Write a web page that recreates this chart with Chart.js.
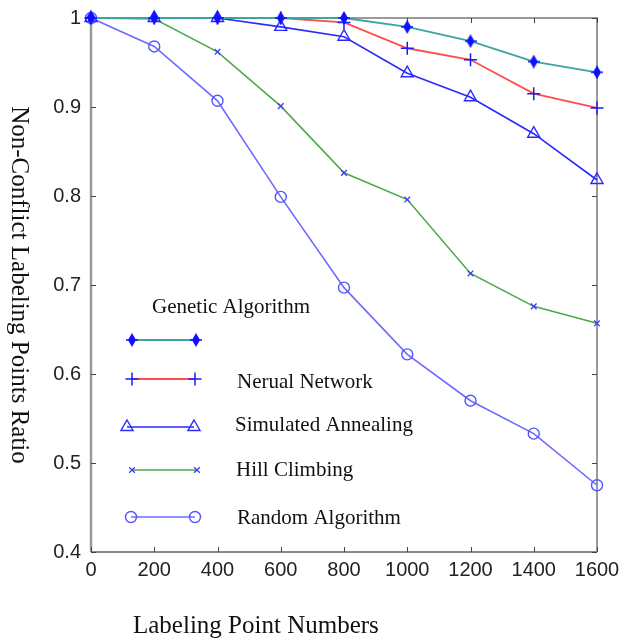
<!DOCTYPE html>
<html><head><meta charset="utf-8">
<script src="https://cdn.jsdelivr.net/npm/chart.js@4.4.1/dist/chart.umd.min.js"></script>
<style>html,body{margin:0;padding:0;background:#fff}#wrap{width:623px;height:640px}</style>
</head><body><div id="wrap"><canvas id="c" width="623" height="640"></canvas></div>
<script>
// ---- data ----
const labelingPoints = [0, 200, 400, 600, 800, 1000, 1200, 1400, 1600];
const geneticAlgorithm = [1, 1, 1, 1, 1, 0.990, 0.974, 0.951, 0.939];
const neuralNetwork = [1, 1, 1, 1, 0.995, 0.966, 0.953, 0.915, 0.899];
const simulatedAnnealing = [1, 1, 1, 0.990, 0.979, 0.938, 0.911, 0.870, 0.818];
const hillClimbing = [1, 0.999, 0.962, 0.901, 0.826, 0.796, 0.713, 0.676, 0.657];
const randomAlgorithm = [1, 0.968, 0.907, 0.799, 0.697, 0.622, 0.570, 0.533, 0.475];
const xTickValues = [0, 200, 400, 600, 800, 1000, 1200, 1400, 1600];
const xTickLabels = ['0', '200', '400', '600', '800', '1000', '1200', '1400', '1600'];
const yTickValues = [0.4, 0.5, 0.6, 0.7, 0.8, 0.9, 1];
const yTickLabels = ['0.4', '0.5', '0.6', '0.7', '0.8', '0.9', '1'];
const seriesNames = ['Genetic Algorithm', 'Nerual Network', 'Simulated Annealing', 'Hill Climbing', 'Random Algorithm'];
const xAxisTitle = 'Labeling Point Numbers';
const yAxisTitle = 'Non-Conflict Labeling Points Ratio';

// ---- custom marker for Genetic Algorithm ----
function makeStar() {
  const c = document.createElement('canvas');
  c.width = 12; c.height = 14;
  const g = c.getContext('2d');
  g.fillStyle = '#1010ff';
  g.beginPath();
  g.moveTo(6, 0); g.lineTo(10, 7); g.lineTo(6, 14); g.lineTo(2, 7); g.closePath();
  g.fill();
  g.strokeStyle = '#1010ff'; g.lineWidth = 1.5;
  g.beginPath(); g.moveTo(0, 7); g.lineTo(12, 7); g.stroke();
  return c;
}
const starMarker = makeStar();

const pts = arr => arr.map((v, i) => ({ x: labelingPoints[i], y: v }));
const markerBlue = '#1a1aff';

const datasets = [
  { label: seriesNames[0], data: pts(geneticAlgorithm), borderColor: '#3aa6a0', borderWidth: 1.8,
    pointStyle: starMarker, pointRadius: 6, pointBorderColor: markerBlue, pointBackgroundColor: markerBlue },
  { label: seriesNames[1], data: pts(neuralNetwork), borderColor: '#ff4d4d', borderWidth: 1.8,
    pointStyle: 'cross', pointRadius: 6.5, pointBorderWidth: 1.5, pointBorderColor: markerBlue, pointBackgroundColor: markerBlue },
  { label: seriesNames[2], data: pts(simulatedAnnealing), borderColor: '#2a2aff', borderWidth: 1.6,
    pointStyle: 'triangle', pointRadius: 7, pointBorderWidth: 1.4, pointBorderColor: '#2a2aff', pointBackgroundColor: 'rgba(255,255,255,0)' },
  { label: seriesNames[3], data: pts(hillClimbing), borderColor: '#4aaa4a', borderWidth: 1.6,
    pointStyle: 'crossRot', pointRadius: 4, pointBorderWidth: 1.3, pointBorderColor: '#3a3aff', pointBackgroundColor: '#3a3aff' },
  { label: seriesNames[4], data: pts(randomAlgorithm), borderColor: '#6b6bff', borderWidth: 1.6,
    pointStyle: 'circle', pointRadius: 5.5, pointBorderWidth: 1.4, pointBorderColor: '#5555ff', pointBackgroundColor: 'rgba(255,255,255,0)' }
].map(d => Object.assign({ fill: false, tension: 0, clip: false, pointHoverRadius: d.pointRadius }, d));

function drawMarker(ctx, ds, x, y) {
  ctx.save();
  ctx.strokeStyle = ds.pointBorderColor;
  ctx.fillStyle = ds.pointBackgroundColor;
  ctx.lineWidth = ds.pointBorderWidth || 1;
  const opts = { pointStyle: ds.pointStyle, radius: ds.pointRadius, borderWidth: ds.pointBorderWidth || 1, rotation: 0 };
  if (Chart.helpers && Chart.helpers.drawPoint) Chart.helpers.drawPoint(ctx, opts, x, y);
  ctx.restore();
}

const framePlugin = {
  id: 'frame',
  beforeDatasetsDraw(chart) {
    const { ctx, chartArea: a, scales } = chart;
    ctx.save();
    // left axis
    ctx.strokeStyle = '#9a9a9a'; ctx.lineWidth = 2.5;
    ctx.beginPath(); ctx.moveTo(a.left, a.top); ctx.lineTo(a.left, a.bottom); ctx.stroke();
    ctx.strokeStyle = '#7a7a7a'; ctx.lineWidth = 1.5;
    ctx.beginPath(); ctx.moveTo(a.left, a.top); ctx.lineTo(a.right, a.top); ctx.lineTo(a.right, a.bottom); ctx.stroke();
    ctx.strokeStyle = '#8a8a8a'; ctx.lineWidth = 2;
    ctx.beginPath(); ctx.moveTo(a.left, a.bottom); ctx.lineTo(a.right, a.bottom); ctx.stroke();
    // inward ticks
    ctx.strokeStyle = '#444'; ctx.lineWidth = 1;
    xTickValues.forEach(v => {
      const px = Math.round(scales.x.getPixelForValue(v)) + 0.5;
      ctx.beginPath(); ctx.moveTo(px, a.bottom); ctx.lineTo(px, a.bottom - 5); ctx.stroke();
      ctx.beginPath(); ctx.moveTo(px, a.top); ctx.lineTo(px, a.top + 5); ctx.stroke();
    });
    yTickValues.forEach(v => {
      const py = Math.round(scales.y.getPixelForValue(v)) + 0.5;
      ctx.beginPath(); ctx.moveTo(a.left, py); ctx.lineTo(a.left + 5, py); ctx.stroke();
      ctx.beginPath(); ctx.moveTo(a.right, py); ctx.lineTo(a.right - 5, py); ctx.stroke();
    });
    ctx.restore();
  },
  afterDraw(chart) {
    const ctx = chart.ctx;
    ctx.save();
    ctx.fillStyle = '#111';
    // axis titles
    ctx.font = '25px "Liberation Serif", "Times New Roman", serif';
    ctx.textBaseline = 'alphabetic';
    ctx.textAlign = 'left';
    ctx.fillText(xAxisTitle, 133, 633);
    ctx.save();
    ctx.translate(19, 285);
    ctx.rotate(Math.PI / 2);
    ctx.textAlign = 'center';
    ctx.textBaseline = 'middle';
    ctx.fillText(yAxisTitle, 0, 0);
    ctx.restore();
    // legend
    const legend = [
      { tx: 152, ty: 307, x1: 132, x2: 196, ly: 340 },
      { tx: 237, ty: 382, x1: 132, x2: 195, ly: 379 },
      { tx: 235, ty: 425, x1: 127, x2: 194, ly: 427 },
      { tx: 236, ty: 470, x1: 132, x2: 197, ly: 470 },
      { tx: 237, ty: 518, x1: 131, x2: 195, ly: 517 }
    ];
    ctx.font = '21px "Liberation Serif", "Times New Roman", serif';
    ctx.textAlign = 'left';
    ctx.textBaseline = 'middle';
    legend.forEach((L, i) => {
      const ds = datasets[i];
      ctx.fillStyle = '#111';
      ctx.fillText(seriesNames[i], L.tx, L.ty);
      ctx.save();
      ctx.strokeStyle = ds.borderColor; ctx.lineWidth = ds.borderWidth;
      ctx.beginPath(); ctx.moveTo(L.x1, L.ly); ctx.lineTo(L.x2, L.ly); ctx.stroke();
      ctx.restore();
      drawMarker(ctx, ds, L.x1, L.ly);
      drawMarker(ctx, ds, L.x2, L.ly);
    });
    ctx.restore();
  }
};

new Chart(document.getElementById('c'), {
  type: 'line',
  data: { datasets },
  options: {
    responsive: false,
    animation: false,
    devicePixelRatio: 1,
    layout: { padding: { left: 0, top: 18, right: 26, bottom: 0 } },
    plugins: { legend: { display: false }, tooltip: { enabled: false }, title: { display: false } },
    scales: {
      x: {
        type: 'linear', min: 0, max: 1600,
        afterFit: s => { s.height = 88; s.paddingLeft = 0; s.paddingRight = 0; },
        afterBuildTicks: s => { s.ticks = xTickValues.map(v => ({ value: v })); },
        grid: { display: false, drawTicks: false },
        border: { display: false },
        ticks: { padding: 6, color: '#222', maxRotation: 0, autoSkip: false,
          font: { family: '"Liberation Sans", Arial, sans-serif', size: 20 },
          callback: v => xTickLabels[xTickValues.indexOf(v)] }
      },
      y: {
        type: 'linear', min: 0.4, max: 1,
        afterFit: s => { s.width = 91; s.paddingTop = 0; s.paddingBottom = 0; },
        afterBuildTicks: s => { s.ticks = yTickValues.map(v => ({ value: v })); },
        grid: { display: false, drawTicks: false },
        border: { display: false },
        ticks: { padding: 10, color: '#222', autoSkip: false,
          font: { family: '"Liberation Sans", Arial, sans-serif', size: 20 },
          callback: v => yTickLabels[yTickValues.findIndex(t => Math.abs(t - v) < 1e-9)] }
      }
    }
  },
  plugins: [framePlugin]
});
</script></body></html>
